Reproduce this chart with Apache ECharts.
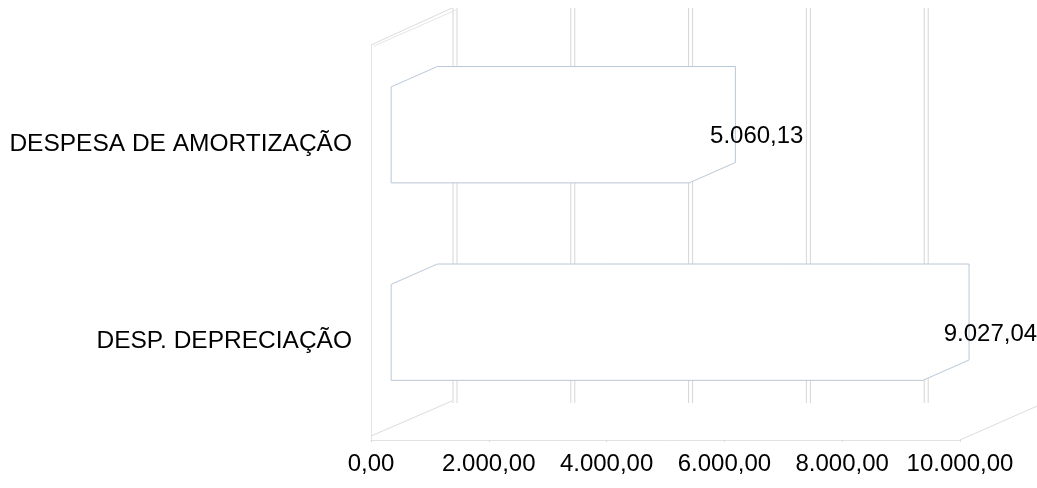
<!DOCTYPE html>
<html>
<head>
<meta charset="utf-8">
<script src="https://cdn.jsdelivr.net/npm/echarts@6/dist/echarts.min.js"></script>
<style>
html,body{margin:0;padding:0;background:#fff;}
#c{width:1037px;height:488px;}
</style>
</head>
<body>
<div id="c"></div>
<script>
// ---- data ----
const categories = ['DESP. DEPRECIAÇÃO', 'DESPESA DE AMORTIZAÇÃO'];
const values = [9027.04, 5060.13];
const xTicks = [0, 2000, 4000, 6000, 8000, 10000];

function fmt(v) {
  const s = Math.abs(v).toFixed(2);
  const parts = s.split('.');
  return parts[0].replace(/\B(?=(\d{3})+(?!\d))/g, '.') + ',' + parts[1];
}

const FONT = '"Liberation Sans", Arial, sans-serif';
const WALL = '#d6d6d6';
const EDGE = '#bac8d6';
// 3D depth offset of the back wall (pixels)
const DX = 84, DY = -37;
// bar occupies fraction of the depth
const F1 = 0.24, F2 = 0.79;

const chart = echarts.init(document.getElementById('c'), null, {renderer: 'canvas'});

const frameData = xTicks.map(v => [v, 0]);
const barData = values.map((v, i) => [v, i]);

chart.setOption({
  animation: false,
  backgroundColor: '#ffffff',
  grid: {left: 371, right: 77, top: 45, bottom: 48, containLabel: false},
  xAxis: {
    type: 'value', min: 0, max: 10000, interval: 2000,
    axisLine: {show: true, lineStyle: {color: '#e2e2e2', width: 1}},
    axisTick: {show: true, length: 2, lineStyle: {color: '#d8d8d8'}},
    splitLine: {show: false},
    axisLabel: {
      color: '#000', fontSize: 24, fontFamily: FONT, margin: 12,
      formatter: v => fmt(v)
    }
  },
  yAxis: {
    type: 'category', data: categories,
    axisLine: {show: true, lineStyle: {color: '#e6e6e6', width: 1}},
    axisTick: {show: false},
    splitLine: {show: false},
    axisLabel: {color: '#000', fontSize: 24.5, fontFamily: FONT, margin: 19, padding: [5, 0, 0, 0]}
  },
  series: [
    {
      type: 'custom', name: 'frame', z: 1,
      data: frameData,
      encode: {x: 0, y: 1},
      silent: true,
      renderItem: function (params, api) {
        const cs = params.coordSys;
        const p = api.coord([api.value(0), 0]);
        const xb = p[0] + DX;
        const top = cs.y + DY;
        const bot = cs.y + cs.height + DY;
        const children = [
          {type: 'line', shape: {x1: xb - 2, y1: top, x2: xb - 2, y2: bot}, style: {stroke: WALL, lineWidth: 1}},
          {type: 'line', shape: {x1: xb + 2, y1: top, x2: xb + 2, y2: bot}, style: {stroke: WALL, lineWidth: 1}}
        ];
        if (params.dataIndex === 0) {
          const x0 = p[0];
          const yTop = cs.y, yBot = cs.y + cs.height;
          // left wall top edge (double)
          children.push({type: 'line', shape: {x1: x0, y1: yTop, x2: x0 + DX - 3, y2: yTop + DY}, style: {stroke: '#dcdcdc', lineWidth: 1}});
          children.push({type: 'line', shape: {x1: x0 + 3, y1: yTop + 1, x2: x0 + DX + 1, y2: yTop + DY + 2}, style: {stroke: '#e6e6e6', lineWidth: 1}});
          // floor left edge
          children.push({type: 'line', shape: {x1: x0, y1: yBot - 4, x2: x0 + DX - 3, y2: yBot - 4 + DY + 2}, style: {stroke: '#dcdcdc', lineWidth: 1}});
        }
        if (params.dataIndex === xTicks.length - 1) {
          const yBot = cs.y + cs.height;
          children.push({type: 'line', shape: {x1: p[0], y1: yBot, x2: p[0] + DX, y2: yBot + DY}, style: {stroke: '#dcdcdc', lineWidth: 1}});
        }
        return {type: 'group', children: children};
      }
    },
    {
      type: 'custom', name: 'bars', z: 3,
      data: barData,
      encode: {x: 0, y: 1},
      renderItem: function (params, api) {
        const v = api.value(0), c = api.value(1);
        const p0 = api.coord([0, c]);
        const p1 = api.coord([v, c]);
        const band = api.size([0, 1])[1];
        const h = band * 0.243;
        const fx = DX * F1, fy = DY * F1;
        const bx = DX * F2, by = DY * F2;
        const x0f = p0[0] + fx, x1f = p1[0] + fx;
        const yTf = p0[1] + fy - h, yBf = p0[1] + fy + h;
        const x0b = p0[0] + bx, x1b = p1[0] + bx;
        const yTb = p0[1] + by - h, yBb = p0[1] + by + h;
        return {
          type: 'group',
          children: [
            {
              type: 'polygon',
              shape: {points: [[x0f, yBf], [x0f, yTf], [x0b, yTb], [x1b, yTb], [x1b, yBb], [x1f, yBf]]},
              style: {fill: '#ffffff', stroke: EDGE, lineWidth: 1}
            },
            {
              type: 'text',
              x: p1[0] + 41, y: p0[1] - 7,
              style: {text: fmt(v), fill: '#000', fontSize: 24, fontFamily: FONT, align: 'left', verticalAlign: 'middle'}
            }
          ]
        };
      }
    }
  ]
});
</script>
</body>
</html>
